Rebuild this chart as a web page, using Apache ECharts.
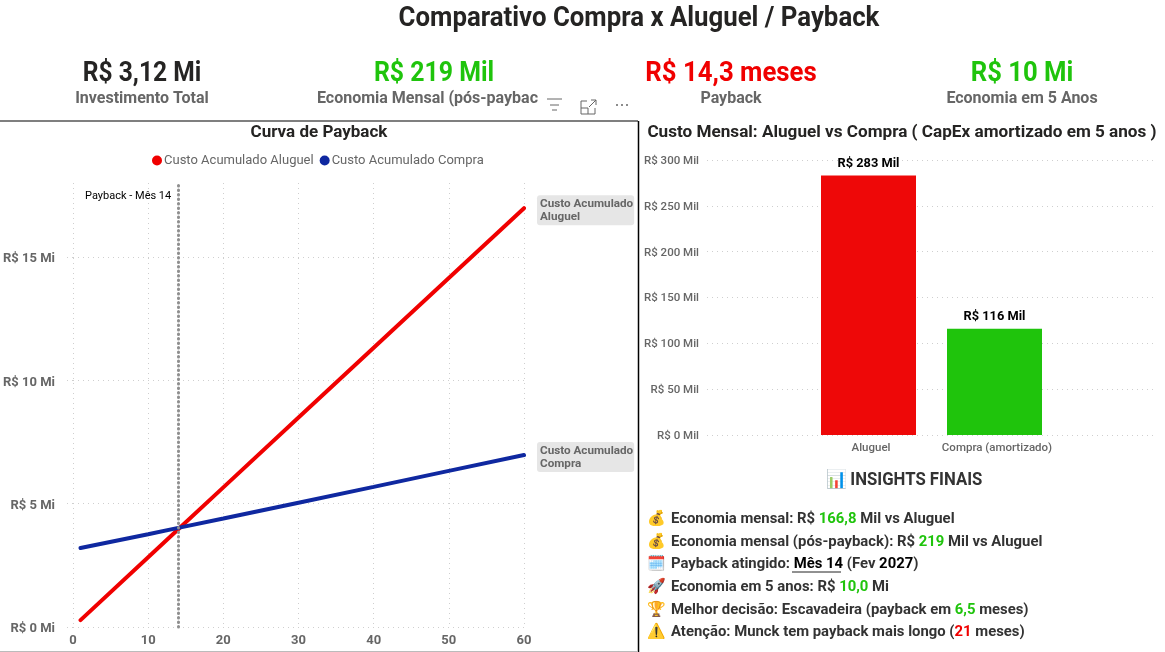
<!DOCTYPE html>
<html><head><meta charset="utf-8">
<style>html,body{margin:0;padding:0;background:#fff}#c{width:1165px;height:652px}</style>
<script src="https://cdn.jsdelivr.net/npm/echarts@6/dist/echarts.min.js"></script></head>
<body><div id="c"></div>
<script>
const months=[1,10,14,20,30,40,50,60];
const aluguelAcum=[0.28,2.83,3.96,5.66,8.49,11.32,14.15,16.98];
const compraAcum=[3.20,3.76,4.02,4.40,5.04,5.68,6.33,6.97];
const paybackMonth=14;
const barCats=['Aluguel','Compra (amortizado)'];
const barVals=[283,116];
const barColors=['#EE0808','#1FC40C'];
const kpiValues=['R$ 3,12 Mi','R$ 219 Mil','R$ 14,3 meses','R$ 10 Mi'];
const kpiLabels=['Investimento Total','Economia Mensal (pós-paybac','Payback','Economia em 5 Anos'];
const kpiColors=['#252423','#1FC40C','#F00000','#1FC40C'];
const kpiX=[142,434,731,1022];
const kpiLabelX=[142,427.5,731,1022];
const insights=[
 ['💰','Economia mensal: R$ {g|166,8} Mil vs Aluguel'],
 ['💰','Economia mensal (pós-payback): R$ {g|219} Mil vs Aluguel'],
 ['🗓️','Payback atingido: {k|Mês 14} (Fev {k|2027})'],
 ['🚀','Economia em 5 anos: R$ {g|10,0} Mi'],
 ['🏆','Melhor decisão: Escavadeira (payback em {g|6,5} meses)'],
 ['⚠️','Atenção: Munck tem payback mais longo ({r|21} meses)']
];
const insightY=[519,542,564,587,610,632];
const F='Roboto, sans-serif';
const T=(text,x,y,size,color,weight,extra,sx)=>({type:'text',x,y,scaleX:sx||1,silent:true,style:Object.assign({text,fontFamily:F,fontSize:size,fontWeight:weight||'bold',fill:color,align:'center',verticalAlign:'middle'},extra||{})});
const L=(x1,y1,x2,y2,c,w)=>({type:'line',silent:true,shape:{x1,y1,x2,y2},style:{stroke:c,lineWidth:w||1}});
const g=[];
g.push(T('Comparativo Compra x Aluguel / Payback',639,19,27,'#252423','bold',null,0.955));
kpiValues.forEach((v,i)=>{g.push(T(v,kpiX[i],74,27,kpiColors[i],'bold',null,[.91,.92,.955,.95][i]));g.push(T(kpiLabels[i],kpiLabelX[i],99,16,'#666666'));});
g.push(T('Curva de Payback',319,133,17,'#252423'));
g.push(T('Custo Mensal: Aluguel vs Compra ( CapEx amortizado em 5 anos )',902,133,17,'#252423','bold',null,1.008));
g.push(T('📊 INSIGHTS FINAIS',904,480,18,'#333333','bold',null,0.93));
const rs=(c)=>({fill:c,fontFamily:F,fontSize:15,fontWeight:'bold'});
const rich={g:rs('#1FC40C'),r:rs('#F00000'),k:rs('#000000')};
insights.forEach((r,i)=>{
  g.push(T(r[0],656,insightY[i],15,'#333','normal'));
  g.push(T(r[1],671,insightY[i],15,'#333333','bold',{align:'left',rich},0.99));
});
g.push(L(792,572,841,572,'#222',1));
g.push(L(0,121,638,121,'#555',1.5),L(638.5,121,638.5,652,'#000',1.5),L(0,651.5,638,651.5,'#bbb',1));
g.push(L(547,99,562,99,'#666'),L(550,105,559,105,'#666'),L(552,110,557,110,'#666'));
g.push({type:'polyline',silent:true,shape:{points:[[587,101],[581,101],[581,114],[595,114],[595,108]]},style:{fill:'none',stroke:'#666',lineWidth:1}});
g.push({type:'polyline',silent:true,shape:{points:[[581,108],[588,108],[588,114]]},style:{fill:'none',stroke:'#666',lineWidth:1}});
g.push({type:'polyline',silent:true,shape:{points:[[591,100],[596,100],[596,105]]},style:{fill:'none',stroke:'#666',lineWidth:1}});
g.push(L(589,107,596,100,'#666'));
[617,622,627].forEach(x=>g.push({type:'circle',silent:true,shape:{cx:x,cy:105,r:1},style:{fill:'#666'}}));

const dots={color:'#cfcfcf',type:[1,4],width:1};
const chart=echarts.init(document.getElementById('c'),null,{renderer:'canvas'});
const axisLab={fontFamily:F,fontWeight:'bold',color:'#666666'};
const tok=(size,weight,pad)=>({a:{fontFamily:F,fontSize:size,fontWeight:weight,color:'#666666',padding:pad}});
const endLab=(t)=>({show:true,formatter:t,fontFamily:F,fontWeight:'bold',fontSize:11.7,lineHeight:13,color:'#666666',
     backgroundColor:'#E6E6E6',borderRadius:3,padding:[2,1,2,3],distance:13,offset:[0,2]});
chart.setOption({
 animation:false,backgroundColor:'#fff',
 textStyle:{fontFamily:F},
 graphic:g,
 legend:{left:147,top:149,itemGap:6,itemWidth:10,itemHeight:10,icon:'circle',
   data:['Custo Acumulado Aluguel','Custo Acumulado Compra'],
   textStyle:{fontFamily:F,fontSize:13,color:'#666666',padding:[0,0,0,-3]},selectedMode:false},
 grid:[
  {left:73,top:183,width:451,height:444},
  {left:707,top:160,width:450,height:275},
  {left:805.5,top:160,width:252,height:275}
 ],
 xAxis:[
  {type:'value',gridIndex:0,min:0,max:60,interval:10,axisLine:{show:false},axisTick:{show:false},
   axisLabel:Object.assign({fontSize:13,margin:7},axisLab),splitLine:{show:true,lineStyle:dots}},
  {type:'category',gridIndex:1,show:false,data:['']},
  {type:'category',gridIndex:2,data:barCats,axisLine:{show:false},axisTick:{show:false},
   axisLabel:Object.assign({},axisLab,{fontSize:11.5,fontWeight:'500',margin:6,interval:0,formatter:'{a|{value}}',rich:tok(11.5,'500',[1,0,0,5])})}
 ],
 yAxis:[
  {type:'value',gridIndex:0,min:0,max:18,interval:5,axisLine:{show:false},
   axisTick:{show:true,length:10,lineStyle:dots},
   axisLabel:Object.assign({fontSize:13,margin:18,showMaxLabel:false,formatter:'{a|R$ {value} Mi}',rich:tok(13,'bold',[4,0,0,0])},axisLab),
   splitLine:{show:true,showMaxLine:false,lineStyle:dots}},
  {type:'value',gridIndex:1,min:0,max:300,interval:50,axisLine:{show:false},axisTick:{show:false},
   axisLabel:Object.assign({},axisLab,{fontSize:11.5,fontWeight:'500',margin:8,formatter:'{a|R$ {value} Mil}',rich:tok(11.5,'500',[2,0,0,0])}),
   splitLine:{show:true,lineStyle:dots}},
  {type:'value',gridIndex:2,min:0,max:300,interval:50,show:false,splitLine:{show:false}}
 ],
 series:[
  {name:'Custo Acumulado Aluguel',type:'line',xAxisIndex:0,yAxisIndex:0,showSymbol:false,symbol:'circle',
   data:months.map((m,i)=>[m,aluguelAcum[i]]),itemStyle:{color:'#F00000'},lineStyle:{color:'#F00000',width:4,cap:'round'},
   endLabel:endLab('Custo Acumulado\nAluguel'),
   markLine:{silent:true,symbol:'none',
     lineStyle:{color:'#8f8f8f',type:[0.5,4],width:3,cap:'round'},
     data:[[{coord:[paybackMonth,0]},{coord:[paybackMonth,18]}]],
     label:{show:true,position:'end',rotate:0,formatter:'Payback - Mês '+paybackMonth,color:'#000',fontFamily:F,fontSize:11,align:'right',verticalAlign:'middle',offset:[-7,18]}}},
  {name:'Custo Acumulado Compra',type:'line',xAxisIndex:0,yAxisIndex:0,showSymbol:false,symbol:'circle',
   data:months.map((m,i)=>[m,compraAcum[i]]),itemStyle:{color:'#0F28A0'},lineStyle:{color:'#0F28A0',width:4,cap:'round'},
   endLabel:endLab('Custo Acumulado\nCompra')},
  {type:'bar',xAxisIndex:2,yAxisIndex:2,barWidth:95,
   data:barVals.map((v,i)=>({value:v,itemStyle:{color:barColors[i]}})),
   label:{show:true,position:'top',distance:5,formatter:'R$ {c} Mil',color:'#000',fontFamily:F,fontWeight:'bold',fontSize:12.8}}
 ]
});
</script></body></html>
